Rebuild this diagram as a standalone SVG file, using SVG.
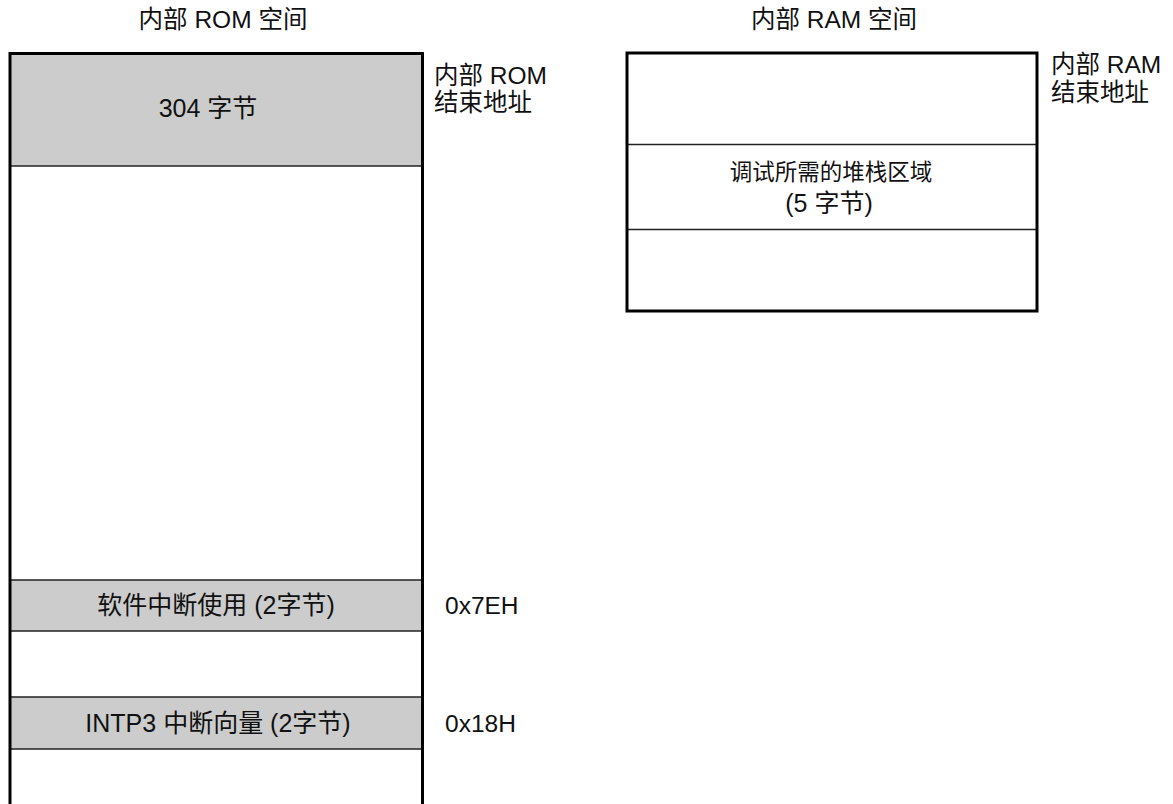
<svg xmlns="http://www.w3.org/2000/svg" width="1173" height="804" viewBox="0 0 1173 804">
<style>
text{font-family:"Liberation Sans","Noto Sans CJK SC",sans-serif;font-size:25px;fill:#111}
.s{font-size:24.5px}
.c{text-anchor:middle}
.band{fill:#cccccc}
.div{stroke:#222;stroke-width:1.5;fill:none}
.outer{stroke:#000;stroke-width:3;fill:none}
</style>
<rect width="1173" height="804" fill="#fff"/>
<g id="titles">
<text class="c s" x="223" y="28">内部 ROM 空间</text>
<text class="c s" x="834" y="28">内部 RAM 空间</text>
</g>
<g id="rom-space">
<g id="rom-top">
<rect class="band" x="10" y="53" width="412" height="113"/>
<text class="c" x="208" y="117">304 字节</text>
</g>
<g id="rom-swint">
<rect class="band" x="10" y="580" width="412" height="51"/>
<text class="c" x="216" y="614">软件中断使用 (2字节)</text>
</g>
<g id="rom-intp3">
<rect class="band" x="10" y="697" width="412" height="52"/>
<text class="c" x="218" y="732">INTP3 中断向量 (2字节)</text>
</g>
<g id="rom-lines">
<line class="div" x1="10" y1="166" x2="422" y2="166"/>
<line class="div" x1="10" y1="580" x2="422" y2="580"/>
<line class="div" x1="10" y1="631" x2="422" y2="631"/>
<line class="div" x1="10" y1="697" x2="422" y2="697"/>
<line class="div" x1="10" y1="749" x2="422" y2="749"/>
<path class="outer" d="M10,808 V53.5 H422.5 V808"/>
</g>
<g id="rom-labels">
<text class="s" x="434" y="84">内部 ROM</text>
<text class="s" x="434" y="111">结束地址</text>
<text class="s" x="445" y="614">0x7EH</text>
<text class="s" x="445" y="732">0x18H</text>
</g>
</g>
<g id="ram-space">
<g id="ram-stack">
<text class="c" x="831" y="180" style="font-size:22.5px">调试所需的堆栈区域</text>
<text class="c" x="829" y="212">(5 字节)</text>
</g>
<line class="div" x1="627" y1="144.5" x2="1037" y2="144.5"/>
<line class="div" x1="627" y1="229.5" x2="1037" y2="229.5"/>
<rect class="outer" x="627" y="53" width="410" height="258"/>
<g id="ram-labels">
<text class="s" x="1051" y="73">内部 RAM</text>
<text class="s" x="1051" y="101">结束地址</text>
</g>
</g>
<g id="connectors"></g>
</svg>
